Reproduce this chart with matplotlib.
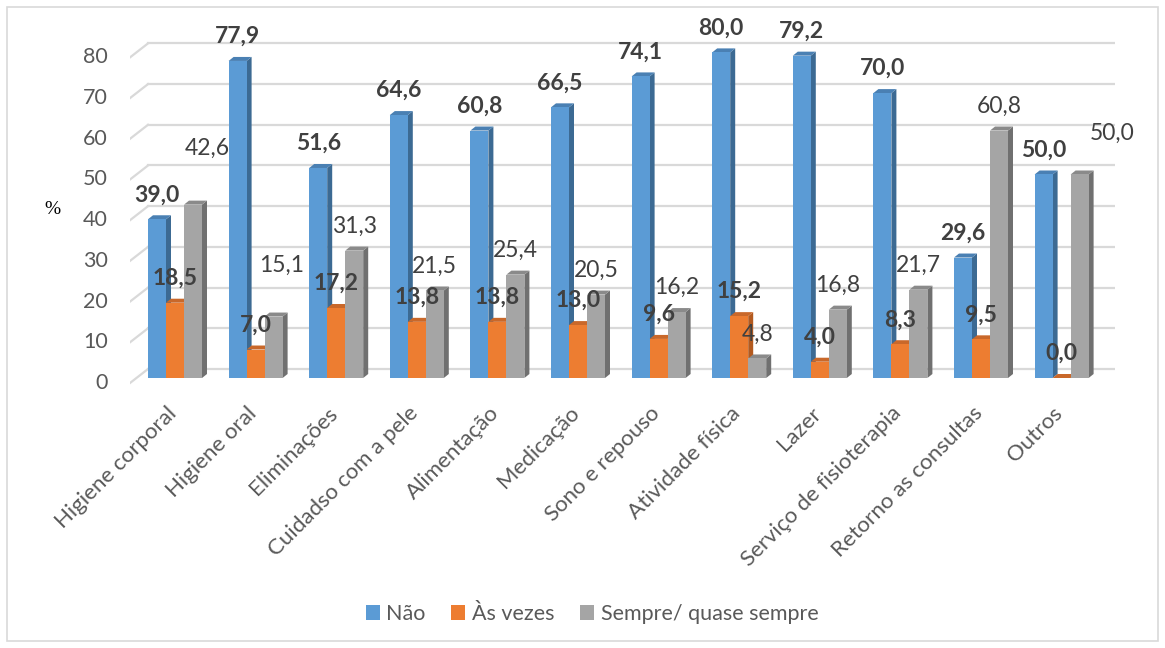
import numpy as np
import matplotlib.pyplot as plt
import matplotlib.transforms as mtransforms
from matplotlib.patches import Polygon, Patch, Rectangle

# Data
categorias = ["Higiene corporal", "Higiene oral", "Eliminações", "Cuidadso com a pele",
              "Alimentação", "Medicação", "Sono e repouso", "Atividade física", "Lazer",
              "Serviço de fisioterapia", "Retorno as consultas", "Outros"]
nao = [39.0, 77.9, 51.6, 64.6, 60.8, 66.5, 74.1, 80.0, 79.2, 70.0, 29.6, 50.0]
as_vezes = [18.5, 7.0, 17.2, 13.8, 13.8, 13.0, 9.6, 15.2, 4.0, 8.3, 9.5, 0.0]
sempre = [42.6, 15.1, 31.3, 21.5, 25.4, 20.5, 16.2, 4.8, 16.8, 21.7, 60.8, 50.0]
series_nomes = ["Não", "Às vezes", "Sempre/ quase sempre"]
yticks = [0, 10, 20, 30, 40, 50, 60, 70, 80]

# manual label nudges (pixels) for the gray labels moved by hand in the original
gray_nudge = {0: (14, 32), 1: (8, 27), 11: (33, 17)}

FONT = "Lato"
front = ["#5B9BD5", "#ED7D31", "#A5A5A5"]
side = ["#3C6A93", "#B35A1F", "#707070"]
top = ["#4A80B3", "#C9682A", "#8A8A8A"]

W, H = 1165, 648
fig = plt.figure(figsize=(W / 100, H / 100), dpi=100)
fig.patches.append(Rectangle((7 / W, 7 / H), 1151 / W, 634 / H, transform=fig.transFigure,
                             fill=False, edgecolor="#D9D9D9", lw=1.2))

# pixel geometry of the plot area
px_left, px_right, px_top, px_bot = 130, 1115, 10, 400
c0, step, base, ppu = 175, 80.6, 378, 4.07
ax = fig.add_axes([px_left / W, 1 - px_bot / H, (px_right - px_left) / W, (px_bot - px_top) / H])
ax.set_xlim((px_left - c0) / step, (px_right - c0) / step)
ax.set_ylim((base - px_bot) / ppu, (base - px_top) / ppu)
ax.axis("off")

def off(dx, dy):
    return mtransforms.offset_copy(ax.transData, fig=fig, x=dx, y=dy, units="dots")

# gridlines: slanted floor segment + back wall line
xl, xr = ax.get_xlim()
xb = xl + 18 / step
for v in yticks:
    ax.plot([xl, xb], [v - 5 / ppu, v + 9 / ppu], color="#D9D9D9", lw=1.6, zorder=0)
    ax.plot([xb, xr], [v + 9 / ppu, v + 9 / ppu], color="#D9D9D9", lw=1.6, zorder=0)
    ax.text(xl - 22 / step, v - 5 / ppu, str(v), fontsize=15.5, color="#595959",
            family=FONT, ha="right", va="center")

ax.text(52 / W, 1 - 210 / H, "%", transform=fig.transFigure, fontsize=14, family="Liberation Serif",
        ha="center", va="center", color="black")

bw = 18 / step
ddx, ddy = 5 / step, 4 / ppu
x = np.arange(len(categorias))
for k, vals in enumerate([nao, as_vezes, sempre]):
    xs = x + (k - 1) * bw
    z = 2 + k
    for xi, v in zip(xs, vals):
        l, r = xi - bw / 2, xi + bw / 2
        ax.add_patch(Polygon([(r, 0), (r + ddx, ddy), (r + ddx, v + ddy), (r, v)],
                             closed=True, facecolor=side[k], edgecolor="none", zorder=z))
        ax.add_patch(Polygon([(l, v), (l + ddx, v + ddy), (r + ddx, v + ddy), (r, v)],
                             closed=True, facecolor=top[k], edgecolor="none", zorder=z))
    ax.bar(xs, vals, width=bw, color=front[k], zorder=z + 0.1, linewidth=0)
    for i, (xi, v) in enumerate(zip(xs, vals)):
        nx, ny = (0, 0)
        if k == 2:
            nx, ny = gray_nudge.get(i, (0, 0))
        ax.text(xi, v, f"{v:.1f}".replace(".", ","), transform=off(nx, 18 + ny),
                ha="center", va="baseline", fontsize=16.5, family=FONT, color="#404040",
                fontweight="bold" if k < 2 else "normal", zorder=10)

for i, c in enumerate(categorias):
    ax.text(i, 0, c, transform=off(-9, -25), rotation=45, rotation_mode="anchor",
            ha="right", va="top", fontsize=16, family=FONT, color="#595959")

handles = [Patch(facecolor=front[k], edgecolor="none") for k in range(3)]
leg = fig.legend(handles, series_nomes, loc="center", bbox_to_anchor=(592 / W, 1 - 614 / H),
                 ncol=3, frameon=False, handlelength=0.65, handleheight=0.65, handletextpad=0.3,
                 columnspacing=1.2, prop={"family": FONT, "size": 15.5})
for t in leg.get_texts():
    t.set_color("#595959")

fig.savefig("out.png", dpi=100)
